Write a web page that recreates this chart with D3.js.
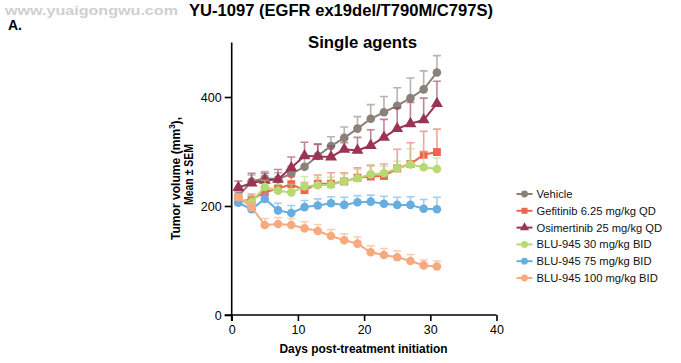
<!DOCTYPE html>
<html>
<head>
<meta charset="utf-8">
<script src="https://cdn.jsdelivr.net/npm/d3@7"></script>
<style>
  html, body { margin: 0; padding: 0; background: #fff; }
  svg { display: block; font-family: "Liberation Sans", Arial, Helvetica, sans-serif; }
</style>
</head>
<body>
<svg id="chart" width="681" height="363"></svg>
<script>
// ---- data ----
const days = [1, 3, 5, 7, 9, 11, 13, 15, 17, 19, 21, 23, 25, 27, 29, 31];
const seriesNames = ["Vehicle", "Gefitinib 6.25 mg/kg QD", "Osimertinib 25 mg/kg QD",
  "BLU-945 30 mg/kg BID", "BLU-945 75 mg/kg BID", "BLU-945 100 mg/kg BID"];
const vehicle     = [218, 245, 251, 249, 259, 272, 292, 310, 325, 342, 360, 372, 384, 398, 414, 445];
const vehicleErr  = [8, 12, 12, 12, 14, 20, 22, 17, 20, 22, 26, 29, 33, 37, 34, 31];
const gefitinib   = [208, 212, 225, 232, 240, 229, 241, 241, 245, 252, 254, 255, 269, 277, 294, 299];
const gefitinibErr= [8, 10, 12, 18, 14, 14, 16, 20, 16, 18, 20, 22, 35, 39, 43, 42];
const osimertinib = [234, 242, 247, 249, 270, 292, 291, 290, 304, 302, 311, 326, 342, 351, 358, 388];
const osimertinibErr = [12, 18, 13, 18, 20, 25, 22, 20, 12, 24, 29, 33, 38, 39, 40, 41];
const blu30       = [212, 207, 235, 228, 225, 236, 238, 239, 245, 251, 258, 260, 269, 276, 271, 268];
const blu30Err    = [8, 10, 12, 12, 15, 18, 14, 14, 14, 16, 18, 13, 13, 29, 29, 20];
const blu75       = [206, 194, 213, 192, 187, 198, 201, 205, 202, 207, 208, 204, 202, 202, 195, 194];
const blu75Err    = [6, 8, 10, 13, 14, 12, 12, 12, 14, 12, 12, 14, 14, 15, 17, 22];
const blu100      = [216, 198, 165, 167, 165, 159, 154, 145, 137, 131, 115, 110, 106, 99, 91, 89];
const blu100Err   = [6, 8, 12, 12, 12, 12, 12, 12, 12, 12, 12, 12, 12, 12, 10, 10];
const xTicks = [0, 10, 20, 30, 40];
const yTicks = [0, 200, 400];

// ---- styles ----
const colors = ["#8a8178", "#ef6451", "#9a3452", "#b6d971", "#67aee0", "#f6aa7d"];
const symbols = [d3.symbolCircle, d3.symbolSquare, d3.symbolTriangle, d3.symbolCircle, d3.symbolCircle, d3.symbolCircle];
const symSizes = [58, 62, 62, 58, 58, 58];

const values = [vehicle, gefitinib, osimertinib, blu30, blu75, blu100];
const errors = [vehicleErr, gefitinibErr, osimertinibErr, blu30Err, blu75Err, blu100Err];

const svg = d3.select("#chart");
const x = d3.scaleLinear().domain([0, 40]).range([231.7, 496.5]);
const y = d3.scaleLinear().domain([0, 500]).range([315, 42.5]);

// titles
svg.append("text").attr("x", 5).attr("y", 14.5).attr("font-size", 13.5).attr("font-weight", "bold")
  .attr("fill", "#cfcfcf").attr("textLength", 173).attr("lengthAdjust", "spacingAndGlyphs")
  .text("www.yuaigongwu.com");
svg.append("text").attr("x", 189).attr("y", 16).attr("font-size", 16.5).attr("font-weight", "bold")
  .attr("textLength", 304).attr("lengthAdjust", "spacingAndGlyphs")
  .text("YU-1097 (EGFR ex19del/T790M/C797S)");
svg.append("text").attr("x", 8).attr("y", 29.5).attr("font-size", 14).attr("font-weight", "bold")
  .text("A.");
svg.append("text").attr("x", 308).attr("y", 48.3).attr("font-size", 16.5).attr("font-weight", "bold")
  .attr("textLength", 109).attr("lengthAdjust", "spacingAndGlyphs")
  .text("Single agents");

// axes
const gx = svg.append("g").attr("transform", "translate(0,315)")
  .call(d3.axisBottom(x).tickValues(xTicks).tickSize(6).tickSizeOuter(0).tickPadding(4));
const gy = svg.append("g").attr("transform", "translate(231.7,0)")
  .call(d3.axisLeft(y).tickValues(yTicks).tickSize(7).tickSizeOuter(0).tickPadding(3));
[gx, gy].forEach(g => {
  g.select(".domain").attr("stroke", "#000").attr("stroke-width", 1.6);
  g.selectAll(".tick line").attr("stroke", "#000").attr("stroke-width", 1.6);
  g.selectAll(".tick text").attr("font-size", 12.5).attr("fill", "#000")
    .attr("font-family", "\"Liberation Sans\", Arial, sans-serif");
});
gx.select(".domain").attr("d", `M${x(0) - 7},0H${x(40)}`);
gy.select(".domain").attr("d", `M0,${y(500)}V${y(0) + 6}`);

// axis labels
svg.append("text").attr("x", 279.5).attr("y", 352.5).attr("font-size", 13).attr("font-weight", "bold")
  .attr("textLength", 168).attr("lengthAdjust", "spacingAndGlyphs")
  .text("Days post-treatment initiation");
const yl1 = svg.append("text").attr("transform", "translate(179.5,240) rotate(-90)")
  .attr("font-size", 13.5).attr("font-weight", "bold")
  .attr("textLength", 123).attr("lengthAdjust", "spacingAndGlyphs");
yl1.append("tspan").text("Tumor volume (mm");
yl1.append("tspan").attr("font-size", 9).attr("dy", -5).text("3");
yl1.append("tspan").attr("dy", 5).text("),");
svg.append("text").attr("transform", "translate(193,205) rotate(-90)")
  .attr("font-size", 13.5).attr("font-weight", "bold")
  .attr("textLength", 61).attr("lengthAdjust", "spacingAndGlyphs")
  .text("Mean ± SEM");

// series
const line = d3.line().x(d => x(d[0])).y(d => y(d[1]));
const plot = svg.append("g");
values.forEach((vals, i) => {
  const pts = days.map((d, j) => [d, vals[j], errors[i][j]]);
  const g = plot.append("g");
  g.selectAll("path.err").data(pts).join("path")
    .attr("d", d => `M${x(d[0])},${y(d[1])}V${y(d[1] + d[2])}M${x(d[0]) - 4},${y(d[1] + d[2])}H${x(d[0]) + 4}`)
    .attr("stroke", colors[i]).attr("stroke-opacity", 0.6).attr("stroke-width", 1.6).attr("fill", "none");
  g.append("path").datum(pts).attr("d", line)
    .attr("stroke", colors[i]).attr("stroke-width", 2).attr("fill", "none");
  g.selectAll("path.pt").data(pts).join("path")
    .attr("transform", d => `translate(${x(d[0])},${y(d[1])})`)
    .attr("d", d3.symbol().type(symbols[i]).size(symSizes[i]))
    .attr("fill", colors[i]);
});

// legend
const leg = svg.append("g");
seriesNames.forEach((name, i) => {
  const yy = 194 + i * 16.8;
  leg.append("line").attr("x1", 516.5).attr("x2", 532.5).attr("y1", yy).attr("y2", yy)
    .attr("stroke", colors[i]).attr("stroke-width", 2);
  leg.append("path").attr("transform", `translate(524.5,${yy})`)
    .attr("d", d3.symbol().type(symbols[i]).size(36)).attr("fill", colors[i]);
  leg.append("text").attr("x", 536.5).attr("y", yy + 4).attr("font-size", 11.2).attr("fill", "#111")
    .text(name);
});
</script>
</body>
</html>
